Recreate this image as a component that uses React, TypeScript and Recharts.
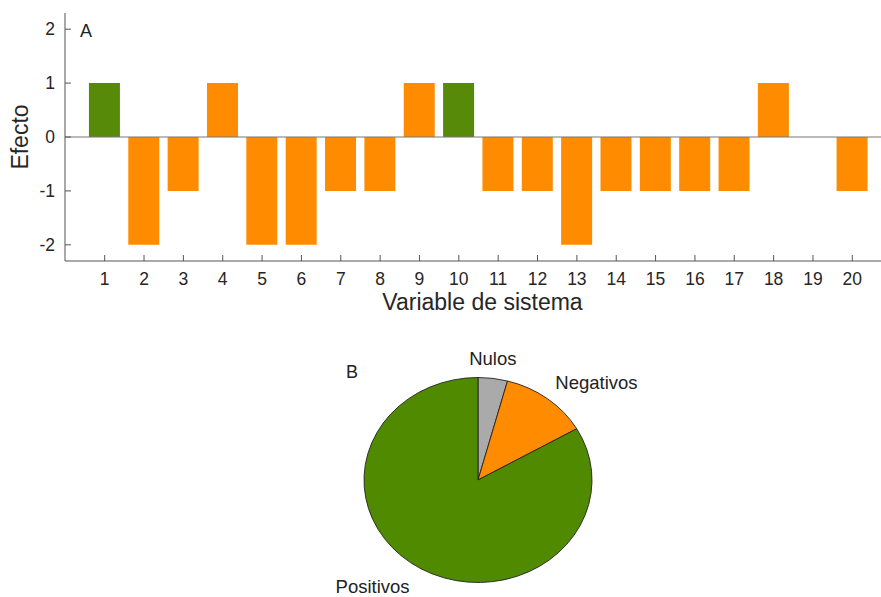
import React from 'react';
import { BarChart, Bar, XAxis, YAxis, ReferenceLine, Cell, PieChart, Pie } from 'recharts';

// ---- Data ----
const variables = ['1','2','3','4','5','6','7','8','9','10','11','12','13','14','15','16','17','18','19','20'];
const effects = [1, -2, -1, 1, -2, -2, -1, -1, 1, 1, -1, -1, -2, -1, -1, -1, -1, 1, 0, -1];
const greenVariables = ['1', '10'];
const yTicks = [-2, -1, 0, 1, 2];

const pieNames = ['Nulos', 'Negativos', 'Positivos'];
const pieCounts = [1, 3, 20];
const pieColors = ['#aaaaaa', '#ff8c00', '#4f8a00'];

const FONT = '"Liberation Sans", Arial, Helvetica, sans-serif';
const ORANGE = '#ff8c00';
const GREEN = '#588a0a';
const AXIS = '#555555';

const barData = variables.map((v, i) => ({ name: v, value: effects[i] }));
const pieData = pieNames.map((n, i) => ({ name: n, value: pieCounts[i], color: pieColors[i] }));

const BottomTick = (props: any) => {
  const { x, y, payload } = props;
  return (
    <g>
      <line x1={x} x2={x} y1={y} y2={y - 6} stroke={AXIS} strokeWidth={1} />
      <text x={x} y={y + 24} textAnchor="middle" fontSize={17.5} fontFamily={FONT} fill="#262626">
        {payload.value}
      </text>
    </g>
  );
};

const TopTick = (props: any) => {
  const { x, y } = props;
  return <line x1={x} x2={x} y1={y} y2={y + 6} stroke={AXIS} strokeWidth={1} />;
};

const LeftTick = (props: any) => {
  const { x, y, payload } = props;
  return (
    <g>
      <line x1={x} x2={x + 6} y1={y} y2={y} stroke={AXIS} strokeWidth={1} />
      <text x={x - 10} y={y} dy="0.36em" textAnchor="end" fontSize={17.5} fontFamily={FONT} fill="#262626">
        {payload.value}
      </text>
    </g>
  );
};

const ASPECT = 114 / 102.5;

const EllipseSector = (props: any) => {
  const { cx, cy, startAngle, endAngle, outerRadius, fill } = props;
  const rx = outerRadius * ASPECT;
  const ry = outerRadius;
  const rad = Math.PI / 180;
  const sx = cx + rx * Math.cos(startAngle * rad);
  const sy = cy - ry * Math.sin(startAngle * rad);
  const ex = cx + rx * Math.cos(endAngle * rad);
  const ey = cy - ry * Math.sin(endAngle * rad);
  const large = Math.abs(endAngle - startAngle) > 180 ? 1 : 0;
  const sweep = endAngle < startAngle ? 1 : 0;
  const d = `M ${cx} ${cy} L ${sx} ${sy} A ${rx} ${ry} 0 ${large} ${sweep} ${ex} ${ey} Z`;
  return <path d={d} fill={fill} stroke="#222" strokeWidth={0.9} strokeLinejoin="round" />;
};

const PieLabel = (props: any) => {
  const { cx, cy, midAngle, outerRadius, name } = props;
  const rad = Math.PI / 180;
  const k = 1.2;
  const c = Math.cos(midAngle * rad);
  const anchor = c > 0.3 ? 'start' : c < -0.3 ? 'end' : 'middle';
  const shift = anchor === 'start' ? -6 : anchor === 'middle' ? -3 : 0;
  const x = cx + outerRadius * ASPECT * k * c + shift;
  const y = cy - outerRadius * k * Math.sin(midAngle * rad);
  return (
    <text x={x} y={y} dy="0.36em" textAnchor={anchor} fontSize={18.5} fontFamily={FONT} fill="#222">
      {name}
    </text>
  );
};

export default function App() {
  return (
    <div style={{ position: 'absolute', left: 0, top: 0, width: 881, height: 597, overflow: 'hidden', background: '#fff', fontFamily: FONT }}>
      <div style={{ position: 'absolute', left: 0, top: 0 }}>
        <BarChart width={892} height={321} data={barData} margin={{ top: 13, right: 0, left: 0, bottom: 0 }} barCategoryGap="10%">
          <XAxis
            xAxisId="top"
            orientation="top"
            dataKey="name"
            height={0}
            padding={{ left: 20, right: 20 }}
            axisLine={{ stroke: AXIS }}
            tickLine={false}
            tickSize={0}
            tickMargin={0}
            tick={<TopTick />}
            interval={0}
          />
          <XAxis
            xAxisId="bottom"
            dataKey="name"
            height={60}
            padding={{ left: 20, right: 20 }}
            axisLine={{ stroke: AXIS }}
            tickLine={false}
            tickSize={0}
            tickMargin={0}
            tick={<BottomTick />}
            interval={0}
            label={{ value: 'Variable de sistema', position: 'insideBottom', offset: 11, fontSize: 23, fontFamily: FONT, fill: '#262626', dx: 4 }}
          />
          <YAxis
            width={65}
            domain={[-2.3, 2.3]}
            ticks={yTicks}
            type="number"
            allowDataOverflow
            axisLine={{ stroke: AXIS }}
            tickLine={false}
            tickSize={0}
            tickMargin={0}
            tick={<LeftTick />}
            label={{ value: 'Efecto', angle: -90, position: 'insideLeft', offset: 20, fontSize: 23, fontFamily: FONT, fill: '#262626', style: { textAnchor: 'middle' } }}
          />
          <ReferenceLine y={0} xAxisId="bottom" stroke="#777" strokeWidth={1} />
          <Bar dataKey="value" xAxisId="bottom" isAnimationActive={false}>
            {barData.map((d) => (
              <Cell key={d.name} fill={greenVariables.includes(d.name) ? GREEN : ORANGE} />
            ))}
          </Bar>
        </BarChart>
      </div>
      <div style={{ position: 'absolute', left: 0, top: 320 }}>
        <PieChart width={881} height={277} margin={{ top: 0, right: 0, bottom: 0, left: 0 }}>
          <Pie
            data={pieData}
            dataKey="value"
            nameKey="name"
            cx={478}
            cy={160}
            outerRadius={102.5}
            startAngle={90}
            endAngle={-270}
            isAnimationActive={false}
            labelLine={false}
            label={PieLabel}
            shape={EllipseSector}
            inactiveShape={EllipseSector}
            activeShape={EllipseSector}
          >
            {pieData.map((d) => (
              <Cell key={d.name} fill={d.color} />
            ))}
          </Pie>
        </PieChart>
      </div>
      <svg width={881} height={597} style={{ position: 'absolute', left: 0, top: 0, pointerEvents: 'none' }}>
        <text x={80} y={37} fontSize={18} fontFamily={FONT} fill="#222">A</text>
        <text x={346} y={378} fontSize={18} fontFamily={FONT} fill="#222">B</text>
      </svg>
    </div>
  );
}
